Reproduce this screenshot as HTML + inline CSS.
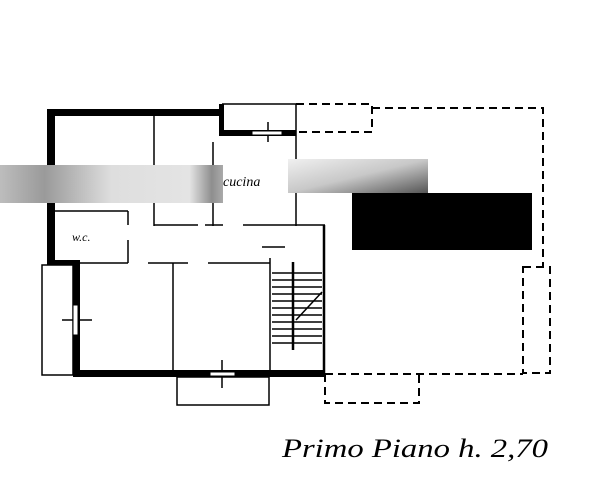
<!DOCTYPE html>
<html><head><meta charset="utf-8"><style>
html,body{margin:0;padding:0;background:#fff}
svg{display:block}
</style></head><body>
<svg width="615" height="481" viewBox="0 0 615 481" xmlns="http://www.w3.org/2000/svg">
<rect width="615" height="481" fill="#fff"/>
<g fill="#000">
<rect x="47" y="109" width="176" height="7"/>
<rect x="47" y="109" width="8" height="156"/>
<rect x="219" y="104" width="5" height="32"/>
<rect x="219" y="130" width="77" height="6"/>
<rect x="73" y="263" width="7" height="113"/>
<rect x="73" y="370" width="252" height="7"/>
<rect x="47" y="260" width="33" height="5"/>
</g>
<g stroke="#000" stroke-width="1.5" fill="none">
<line x1="222" y1="104" x2="296" y2="104"/>
<line x1="296" y1="104" x2="296" y2="226"/>
<line x1="296" y1="225" x2="325" y2="225"/>
<line x1="324" y1="225" x2="324" y2="377" stroke-width="2.5"/>
<line x1="154" y1="112" x2="154" y2="226"/>
<line x1="154" y1="225" x2="198" y2="225"/>
<line x1="213" y1="142" x2="213" y2="226"/>
<line x1="205" y1="225" x2="223" y2="225"/>
<line x1="243" y1="225" x2="296" y2="225"/>
<line x1="55" y1="211" x2="128" y2="211"/>
<line x1="128" y1="211" x2="128" y2="225"/>
<line x1="128" y1="240" x2="128" y2="263"/>
<line x1="55" y1="263" x2="128" y2="263"/>
<line x1="148" y1="263" x2="188" y2="263"/>
<line x1="208" y1="263" x2="270" y2="263"/>
<line x1="173" y1="263" x2="173" y2="372"/>
<line x1="270" y1="258" x2="270" y2="372"/>
<line x1="262" y1="247" x2="285" y2="247"/>
<rect x="42" y="265" width="31" height="110"/>
<rect x="177" y="377" width="92" height="28"/>
<path d="M272 273H322M272 280H322M272 287H322M272 294H322M272 301H322M272 308H322M272 315H322M272 322H322M272 329H322M272 336H322M272 343H322"/>
<line x1="296" y1="320" x2="322" y2="292"/>
<line x1="293" y1="262" x2="293" y2="350" stroke-width="2.5"/>
<line x1="268" y1="122" x2="268" y2="142"/>
<line x1="62" y1="320" x2="92" y2="320"/>
<line x1="222" y1="360" x2="222" y2="388"/>
</g>
<g fill="#fff" stroke="#000" stroke-width="1">
<rect x="252" y="131" width="30" height="4"/>
<rect x="73" y="305" width="5" height="30"/>
<rect x="210" y="372" width="25" height="4"/>
</g>
<g stroke="#000" stroke-width="2" fill="none" stroke-dasharray="8,5">
<path d="M296 104H372V132H296"/>
<path d="M372 108H543V267"/>
<path d="M523 267H550V373H523Z"/>
<path d="M325 374H523"/>
<path d="M325 374V403H419V374"/>
</g>
<defs>
<linearGradient id="g1" x1="0" x2="1">
<stop offset="0" stop-color="#bdbdbd"/><stop offset="0.2" stop-color="#9a9a9a"/><stop offset="0.5" stop-color="#dedede"/><stop offset="0.85" stop-color="#e4e4e4"/><stop offset="0.95" stop-color="#8e8e8e"/><stop offset="1" stop-color="#aaa"/>
</linearGradient>
<linearGradient id="g2" x1="0" y1="0" x2="1" y2="1">
<stop offset="0" stop-color="#f0f0f0"/><stop offset="0.5" stop-color="#c8c8c8"/><stop offset="1" stop-color="#555"/>
</linearGradient>
</defs>
<rect x="0" y="165" width="223" height="38" fill="url(#g1)"/>
<rect x="288" y="159" width="140" height="34" fill="url(#g2)"/>
<rect x="352" y="193" width="180" height="57" fill="#000"/>
<text x="223" y="186" font-family="Liberation Serif, serif" font-style="italic" font-size="14" fill="#000">cucina</text>
<text x="72" y="241" font-family="Liberation Serif, serif" font-style="italic" font-size="12" fill="#000">w.c.</text>
<text x="282" y="457" font-family="Liberation Serif, serif" font-style="italic" font-size="26" fill="#000" textLength="266" lengthAdjust="spacingAndGlyphs">Primo Piano h. 2,70</text>
</svg>
</body></html>
